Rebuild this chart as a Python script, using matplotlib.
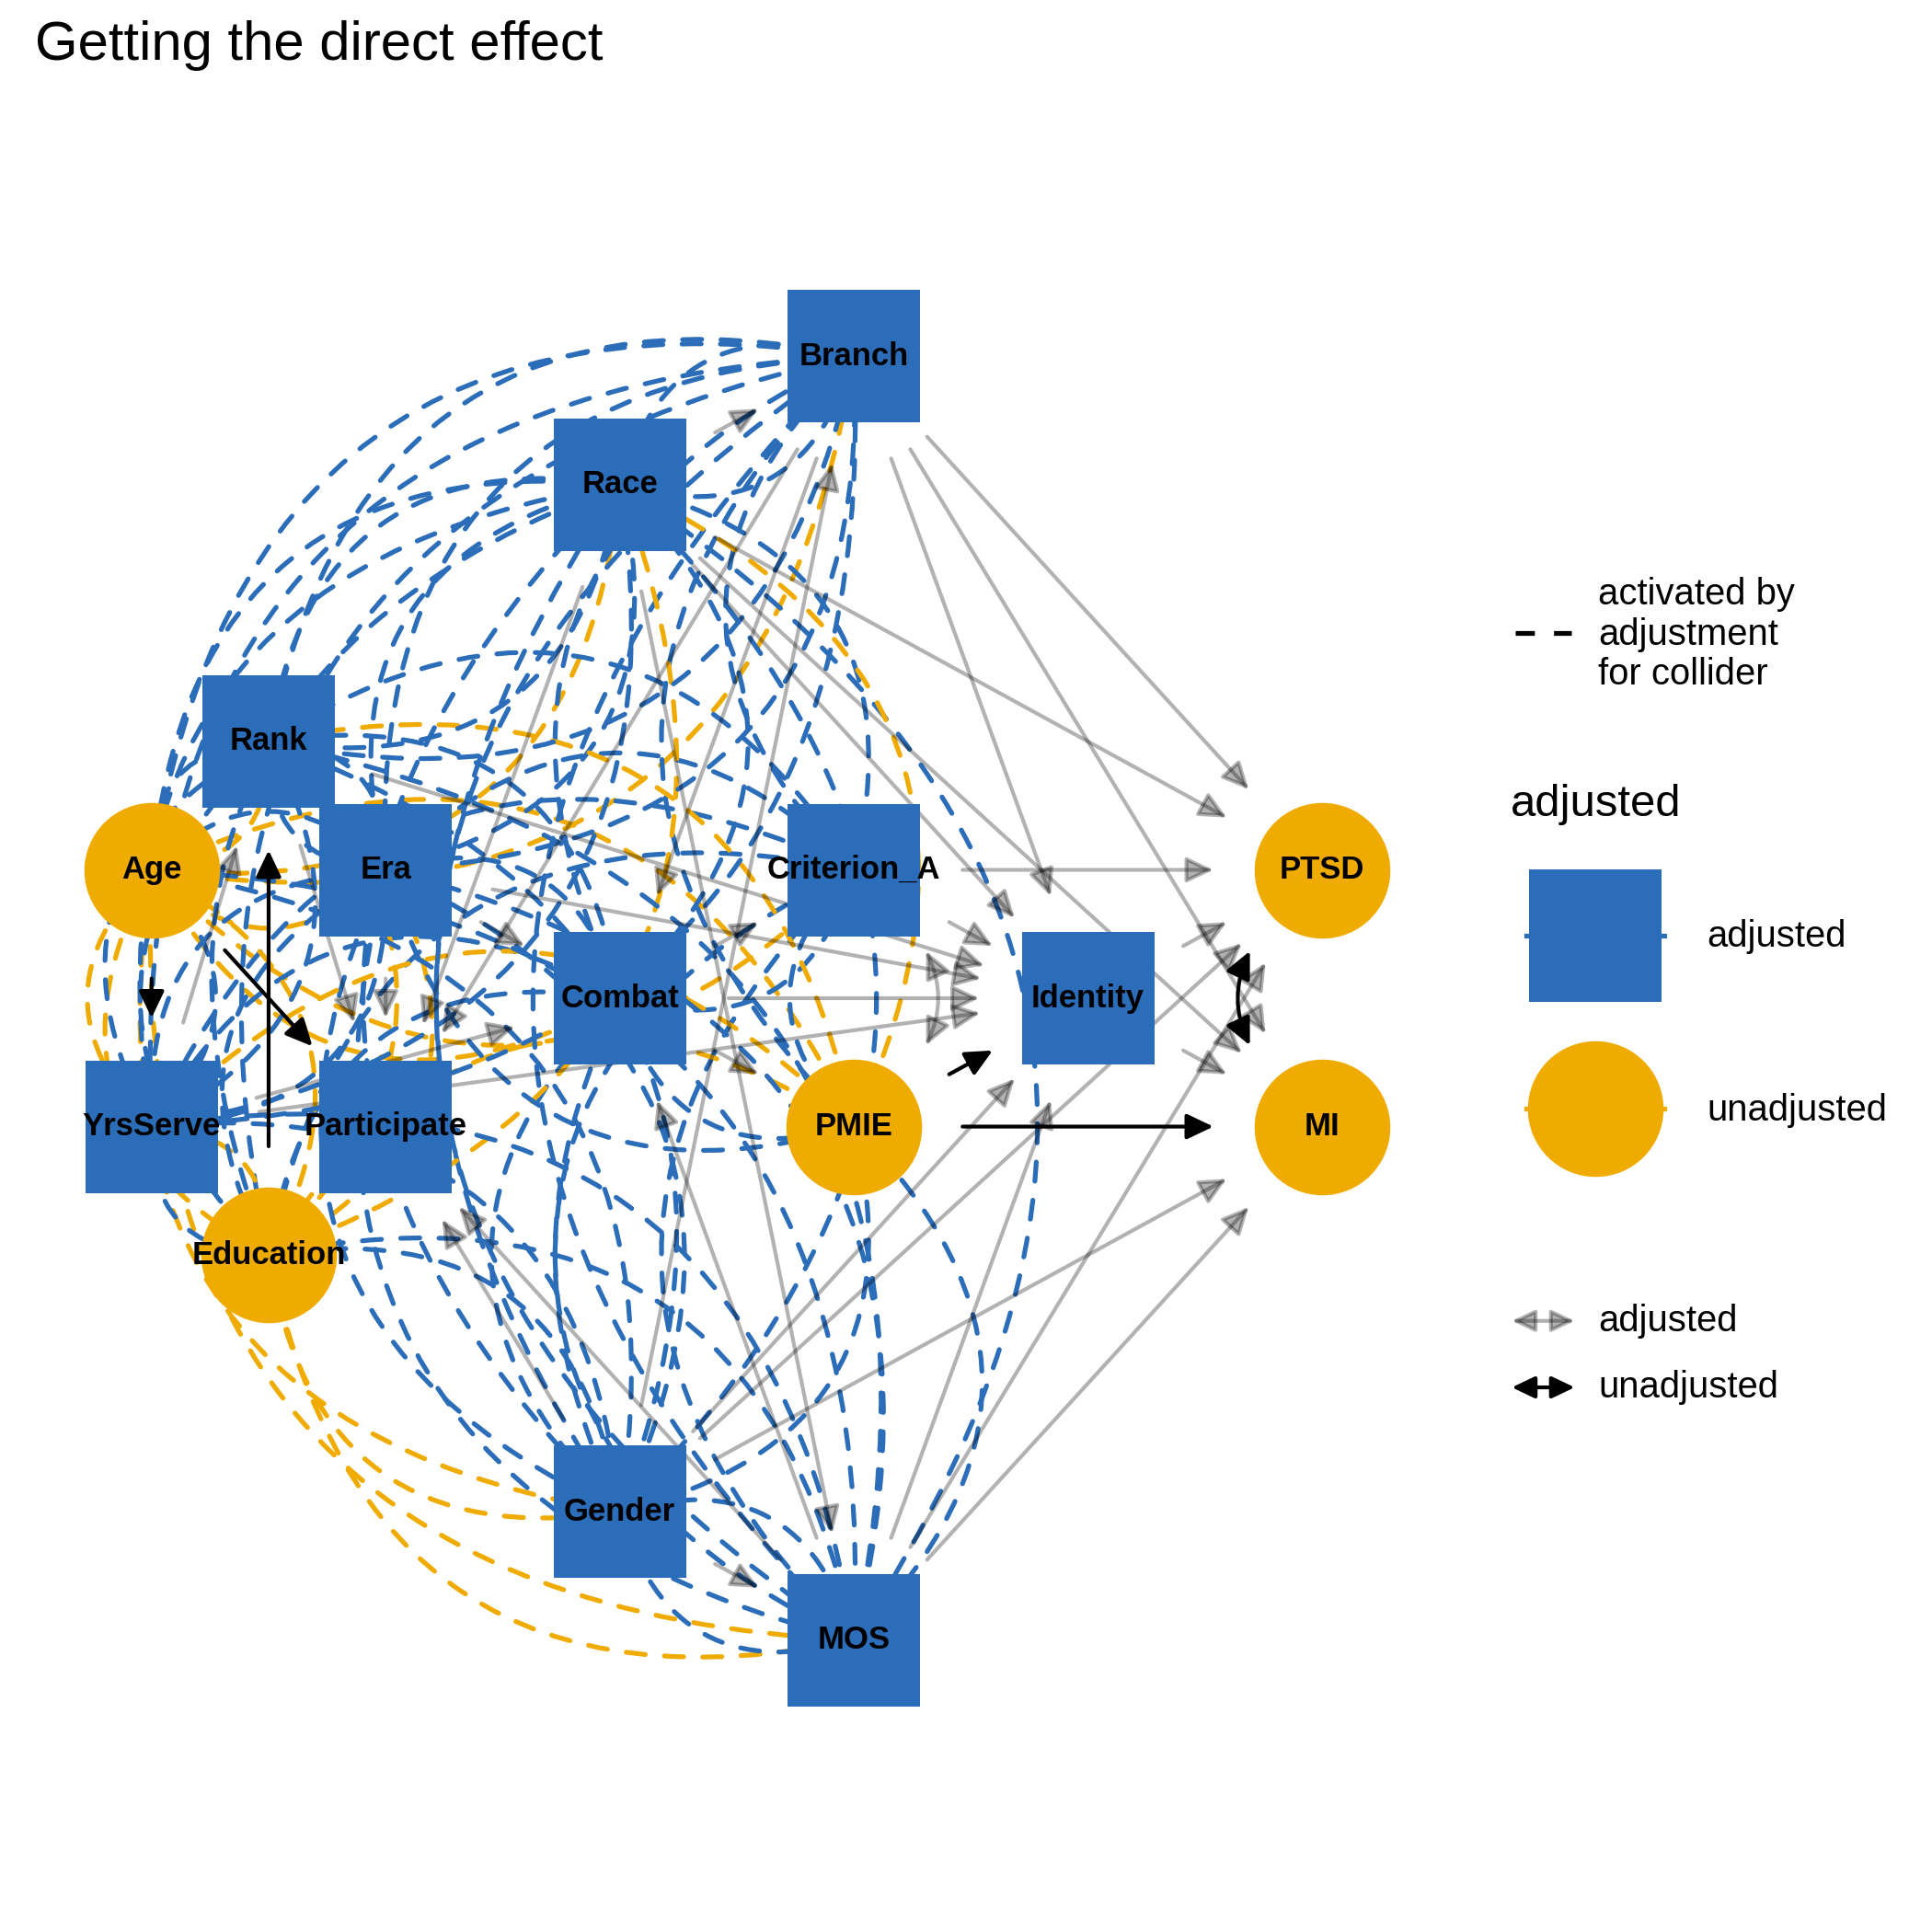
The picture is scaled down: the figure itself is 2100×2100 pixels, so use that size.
import matplotlib
matplotlib.use('Agg')
import matplotlib.pyplot as plt
from matplotlib.patches import FancyArrowPatch

plt.rcParams['font.family'] = ['Liberation Sans', 'DejaVu Sans']

# Node layout (grid units)
##############################################################################
nodes = ['Age', 'Branch', 'Combat', 'Criterion_A', 'Education', 'Era', 'Gender',
         'Identity', 'MI', 'MOS', 'Participate', 'PMIE', 'PTSD', 'Race', 'Rank', 'YrsServe']
node_x = [0, 6, 4, 6, 1, 2, 4, 8, 10, 6, 2, 6, 10, 4, 1, 0]
node_y = [0, 4, -1, 0, -3, 0, -5, -1, -2, -6, -2, -2, 0, 3, 1, -2]
adjusted = ['Branch', 'Combat', 'Criterion_A', 'Era', 'Gender', 'Identity', 'MOS',
            'Participate', 'Race', 'Rank', 'YrsServe']

# directed edges (from, to)
edges = [
    ('Age', 'YrsServe'), ('Age', 'Participate'), ('Education', 'Rank'),
    ('PMIE', 'Identity'), ('PMIE', 'MI'),
    ('Branch', 'PTSD'), ('Branch', 'MI'), ('Branch', 'Identity'),
    ('Branch', 'Combat'), ('Branch', 'Participate'),
    ('Race', 'PTSD'), ('Race', 'MI'), ('Race', 'Identity'), ('Race', 'Branch'),
    ('Race', 'MOS'), ('Race', 'Participate'),
    ('Rank', 'Identity'), ('Rank', 'Participate'),
    ('Era', 'Identity'), ('Era', 'Participate'), ('Era', 'Combat'),
    ('YrsServe', 'Rank'), ('YrsServe', 'Combat'), ('YrsServe', 'Identity'),
    ('Combat', 'Identity'), ('Combat', 'Criterion_A'), ('Combat', 'PMIE'),
    ('Criterion_A', 'PTSD'), ('Criterion_A', 'Identity'),
    ('Identity', 'PTSD'), ('Identity', 'MI'),
    ('Gender', 'PTSD'), ('Gender', 'MI'), ('Gender', 'Identity'),
    ('Gender', 'Branch'), ('Gender', 'MOS'), ('Gender', 'Participate'),
    ('MOS', 'PTSD'), ('MOS', 'MI'), ('MOS', 'Identity'),
    ('MOS', 'Combat'), ('MOS', 'Participate'),
]
# bidirected edges and the side they bend to
bidirected = [('PTSD', 'MI'), ('Criterion_A', 'PMIE')]
bend = [1, -1]

# paths opened by adjusting for the colliders: pairs of collider ancestors
collider_nodes = ['Age', 'Branch', 'Combat', 'Criterion_A', 'Education', 'Era',
                  'Gender', 'MOS', 'PMIE', 'Race', 'Rank', 'YrsServe']
reversed_pairs = [('PMIE', 'Age'), ('PMIE', 'Education')]
# the ancestors of Participate are also joined the other way round
participate_set = ['Age', 'Branch', 'Education', 'Era', 'Gender', 'MOS', 'Race',
                   'Rank', 'YrsServe']
single_pairs = [('Branch', 'MOS'), ('Branch', 'Gender'), ('Branch', 'Education'),
                ('Gender', 'Rank'), ('Gender', 'YrsServe'),
                ('MOS', 'Rank'), ('MOS', 'YrsServe')]

collider_lines = []
for i, a in enumerate(collider_nodes):
    for b in collider_nodes[i + 1:]:
        collider_lines.append((b, a) if (b, a) in reversed_pairs else (a, b))
for i, a in enumerate(participate_set):
    for b in participate_set[i + 1:]:
        if (a, b) not in single_pairs:
            collider_lines.append((b, a))


# Plot
##############################################################################
blue = '#2C6DB9'
orange = '#EFAB00'
cap = 28.35  # 10 mm end caps, in points
head = 'head_length=0.42,head_width=0.2'
ms = 14

fig = plt.figure(figsize=(7, 7), dpi=300)
ax = fig.add_axes([0.02551, 0.09439, 0.71429, 0.77806])
ax.set_xlim(-0.8737, 10.9158)
ax.set_ylim(-6.854, 4.857)
ax.axis('off')

pos = {n: (x, y) for n, x, y in zip(nodes, node_x, node_y)}

# dashed collider lines
for a, b in collider_lines:
    col = blue if a in adjusted else orange
    ax.add_patch(FancyArrowPatch(pos[a], pos[b], connectionstyle='arc3,rad=0.5',
                                 arrowstyle='-', color=col, lw=1.25,
                                 linestyle=(0, (4, 4)), shrinkA=0, shrinkB=0, zorder=1))

# dag edges
for a, b in edges:
    alpha = 0.3 if a in adjusted else 1.0
    ax.add_patch(FancyArrowPatch(pos[a], pos[b], arrowstyle='-|>,' + head, mutation_scale=ms,
                                 color='black', alpha=alpha, lw=1.0,
                                 shrinkA=cap, shrinkB=cap, zorder=2))
for (a, b), s in zip(bidirected, bend):
    alpha = 0.3 if a in adjusted else 1.0
    ax.add_patch(FancyArrowPatch(pos[a], pos[b], arrowstyle='<|-|>,' + head,
                                 connectionstyle='arc3,rad=%.2f' % (0.65 * s),
                                 mutation_scale=ms, color='black', alpha=alpha, lw=1.0,
                                 shrinkA=cap, shrinkB=cap, zorder=2))

# nodes
adj_x = [pos[n][0] for n in nodes if n in adjusted]
adj_y = [pos[n][1] for n in nodes if n in adjusted]
un_x = [pos[n][0] for n in nodes if n not in adjusted]
un_y = [pos[n][1] for n in nodes if n not in adjusted]
ax.scatter(adj_x, adj_y, marker='s', s=34.4 ** 2, color=blue, linewidths=0, zorder=3)
ax.scatter(un_x, un_y, marker='o', s=35.4 ** 2, color=orange, linewidths=0, zorder=3)
for n in nodes:
    ax.text(pos[n][0], pos[n][1], n, ha='center', va='center', fontsize=8.3,
            fontweight='bold', color='black', zorder=4)

# Title and legends (overlay in pixel-like units)
##############################################################################
lax = fig.add_axes([0, 0, 1, 1], zorder=5)
lax.set_xlim(0, 1568)
lax.set_ylim(1568, 0)
lax.axis('off')
lax.patch.set_alpha(0)

lax.text(28, 37, 'Getting the direct effect', fontsize=14.4, ha='left', va='center')

lax.plot([1230, 1275], [514, 514], color='black', lw=1.25, linestyle=(0, (4, 4)))
for yy, line in zip([482, 515, 547], ['activated by', 'adjustment', 'for collider']):
    lax.text(1297, yy, line, fontsize=9.6, ha='left', va='center')

lax.text(1226, 653, 'adjusted', fontsize=11.8, ha='left', va='center')
lax.plot([1239, 1351], [759, 759], color=blue, lw=1.25)
lax.scatter([1295], [759], marker='s', s=34.4 ** 2, color=blue, linewidths=0)
lax.plot([1239, 1351], [900, 900], color=orange, lw=1.25)
lax.scatter([1295], [900], marker='o', s=35.4 ** 2, color=orange, linewidths=0)
lax.text(1385, 760, 'adjusted', fontsize=9.6, ha='left', va='center')
lax.text(1385, 901, 'unadjusted', fontsize=9.6, ha='left', va='center')

for yy, a, lab in zip([1072, 1126], [0.3, 1.0], ['adjusted', 'unadjusted']):
    lax.add_patch(FancyArrowPatch((1227, yy), (1278, yy), arrowstyle='<|-|>,' + head,
                                  mutation_scale=12, color='black', alpha=a, lw=1.0,
                                  shrinkA=0, shrinkB=0))
    lax.text(1297, yy, lab, fontsize=9.6, ha='left', va='center')

fig.savefig('out.png', dpi=300)
